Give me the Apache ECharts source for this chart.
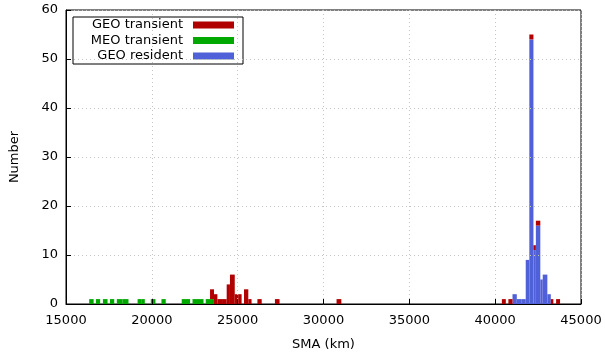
<!DOCTYPE html>
<html>
<head>
<meta charset="utf-8">
<script src="https://cdn.jsdelivr.net/npm/echarts@6/dist/echarts.min.js"></script>
<style>
html, body { margin: 0; padding: 0; background: #fff; }
#chart { width: 605px; height: 356px; }
</style>
</head>
<body>
<div id="chart"></div>
<script>
// Histogram bins: semi-major axis range (km) of each bin
const binLow  = [16350, 16740, 17150, 17560, 17960, 18300, 19170, 19380, 19940, 20560,
                 21740, 21990, 22370, 22690, 23140, 23390, 23620, 23820, 24090, 24360,
                 24550, 24830, 25030, 25370, 25620, 26150, 27170, 30760, 40390, 40770,
                 41010, 41260, 41520, 41780, 41990, 42230, 42370, 42630, 42770, 43040,
                 43240, 43550];
const binHigh = [16610, 16990, 17420, 17810, 18300, 18640, 19380, 19590, 20210, 20810,
                 21990, 22230, 22690, 23010, 23390, 23620, 23820, 24090, 24360, 24550,
                 24830, 25030, 25230, 25620, 25810, 26400, 27440, 31040, 40620, 41010,
                 41260, 41520, 41780, 41990, 42230, 42370, 42630, 42770, 43040, 43240,
                 43390, 43780];

// Object counts per bin for each population
const geoResident  = [0, 0, 0, 0, 0, 0, 0, 0, 0, 0,
                      0, 0, 0, 0, 0, 0, 0, 0, 0, 0,
                      0, 0, 0, 0, 0, 0, 0, 0, 0, 0,
                      2, 1, 1, 9, 54, 11, 16, 5, 6, 2,
                      0, 0];
const meoTransient = [1, 1, 1, 1, 1, 1, 1, 1, 1, 1,
                      1, 1, 1, 1, 1, 1, 0, 0, 0, 0,
                      0, 0, 0, 0, 0, 0, 0, 0, 0, 0,
                      0, 0, 0, 0, 0, 0, 0, 0, 0, 0,
                      0, 0];
const geoTransient = [0, 0, 0, 0, 0, 0, 0, 0, 0, 0,
                      0, 0, 0, 0, 0, 2, 2, 1, 1, 4,
                      6, 2, 2, 3, 1, 1, 1, 1, 1, 1,
                      0, 0, 0, 0, 1, 1, 1, 0, 0, 0,
                      1, 1];

// Axis ranges
const xMin = 15000, xMax = 45000, xStep = 5000;
const yMin = 0, yMax = 60, yStep = 10;

const FONT = 'DejaVu Sans';

// Stack order, bottom to top
const populations = [
  { name: 'GEO resident',  counts: geoResident,  color: '#5060d8' },
  { name: 'MEO transient', counts: meoTransient, color: '#00a800' },
  { name: 'GEO transient', counts: geoTransient, color: '#b00000' }
];

function drawBox(params, api) {
  const lo = api.coord([api.value(0), api.value(2)]);
  const hi = api.coord([api.value(1), api.value(3)]);
  return {
    type: 'rect',
    shape: { x: lo[0], y: hi[1], width: hi[0] - lo[0], height: lo[1] - hi[1] },
    style: { fill: api.visual('color') }
  };
}

const stackBase = binLow.map(() => 0);
const series = populations.map(p => {
  const data = [];
  p.counts.forEach((c, i) => {
    if (c > 0) data.push([binLow[i], binHigh[i], stackBase[i], stackBase[i] + c]);
    stackBase[i] += c;
  });
  return {
    type: 'custom',
    name: p.name,
    data: data,
    encode: { x: [0, 1], y: [2, 3] },
    itemStyle: { color: p.color },
    renderItem: drawBox,
    z: 2
  };
});

const chart = echarts.init(document.getElementById('chart'), null, { renderer: 'canvas' });
chart.setOption({
  animation: false,
  backgroundColor: '#fff',
  grid: {
    left: 65, right: 24, top: 10, bottom: 51,
    show: true, borderColor: '#000', borderWidth: 1, backgroundColor: 'transparent'
  },
  legend: {
    orient: 'vertical',
    left: 73, top: 17,
    align: 'right',
    data: ['GEO transient', 'MEO transient', 'GEO resident'],
    icon: 'rect',
    itemWidth: 41, itemHeight: 7, itemGap: 1.5,
    padding: [1, 9, 1, 10],
    borderColor: '#000', borderWidth: 1, backgroundColor: '#fff',
    selectedMode: false,
    textStyle: {
      fontFamily: FONT, fontSize: 13, color: '#000',
      width: 100, lineHeight: 14, padding: [0, 5, 0, 0]
    }
  },
  xAxis: {
    type: 'value',
    min: xMin, max: xMax, interval: xStep,
    name: 'SMA (km)', nameLocation: 'middle', nameGap: 34,
    nameTextStyle: { fontFamily: FONT, fontSize: 13, color: '#000' },
    axisLine: { show: true, lineStyle: { color: '#000', width: 1 } },
    axisTick: { show: true, inside: true, length: 5, lineStyle: { color: '#000' } },
    axisLabel: { fontFamily: FONT, fontSize: 13, color: '#000', margin: 10,
                 formatter: v => String(v) },
    splitLine: { show: true, lineStyle: { color: '#c4c4c4', type: [1, 3], width: 1 } },
    z: 10
  },
  yAxis: {
    type: 'value',
    min: yMin, max: yMax, interval: yStep,
    name: 'Number', nameLocation: 'middle', nameGap: 45,
    nameTextStyle: { fontFamily: FONT, fontSize: 13, color: '#000' },
    axisLine: { show: true, lineStyle: { color: '#000', width: 1 } },
    axisTick: { show: true, inside: true, length: 5, lineStyle: { color: '#000' } },
    axisLabel: { fontFamily: FONT, fontSize: 13, color: '#000', margin: 8,
                 formatter: v => String(v) },
    splitLine: { show: true, lineStyle: { color: '#c4c4c4', type: [1, 3], width: 1 } },
    z: 10
  },
  series: series
});
</script>
</body>
</html>
